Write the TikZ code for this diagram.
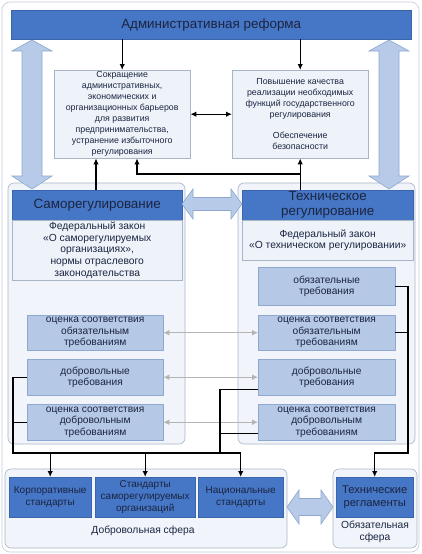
\documentclass[tikz,border=0pt]{standalone}
\usepackage{fontspec}
\setmainfont{Liberation Sans}
\usetikzlibrary{arrows.meta,calc}
\definecolor{dkblue}{HTML}{4676C6}
\definecolor{dkborder}{HTML}{3A64AC}
\definecolor{mdblue}{HTML}{B5C8E6}
\definecolor{mdborder}{HTML}{8FA8D0}
\definecolor{ltfill}{HTML}{EEF3FA}
\definecolor{ltborder}{HTML}{A9B4C6}
\definecolor{contfill}{HTML}{F1F5FB}
\definecolor{arrfill}{HTML}{B7CBE8}
\definecolor{arrdraw}{HTML}{8DA7CF}
\definecolor{txt}{HTML}{1B2540}
\definecolor{gryarr}{HTML}{B4B4B4}
\tikzset{
  dkbox/.style={fill=dkblue, draw=dkborder, text=txt, align=center, inner sep=1pt, anchor=north west},
  mdbox/.style={fill=mdblue, draw=mdborder, text=txt, align=center, inner sep=1pt, anchor=north west,
    font=\fontsize{10.2}{11.6}\selectfont},
  ltbox/.style={fill=ltfill, draw=ltborder, text=txt, align=center, inner sep=1pt, anchor=north west,
    font=\fontsize{8.8}{11}\selectfont},
  lawbox/.style={ltbox, font=\fontsize{10.3}{11.8}\selectfont},
  contbox/.style={rounded corners=6pt, fill=contfill, draw=ltborder, line width=0.6pt},
  fatarrow/.style={fill=arrfill, draw=arrdraw, line width=0.6pt},
  blk/.style={line width=1.3pt, black},
  blkar/.style={blk, -{Latex[length=6pt,width=5.5pt]}},
  blkdbl/.style={blk, {Latex[length=6pt,width=5.5pt]}-{Latex[length=6pt,width=5.5pt]}},
  gry/.style={line width=1.4pt, gryarr, {Latex[length=6pt,width=6pt]}-{Latex[length=6pt,width=6pt]}},
  lbl/.style={text=txt, align=center, inner sep=0pt, font=\fontsize{10.3}{12}\selectfont}
}
\begin{document}
\begin{tikzpicture}[x=1pt,y=-1pt]
\useasboundingbox (0,0) rectangle (421,554);
% outer frame
\draw[rounded corners=8pt, draw=ltborder!70, fill=white, line width=0.6pt] (2,2) rectangle (419,552);
% containers
\draw[contbox] (8,183) rectangle (185,444);
\draw[contbox] (238,183) rectangle (415,444);
\draw[contbox] (5,469) rectangle (287,548);
\draw[contbox] (333,469) rectangle (417,548);
% top bar
\node[dkbox, minimum width=400, minimum height=29, font=\fontsize{13.4}{15}\selectfont] (tb) at (11,10) {Административная реформа};
% big vertical double arrows
\draw[fatarrow] (32,40) -- (52,51) -- (42,51) -- (42,176) -- (52,176) -- (32,189) -- (12,176) -- (22,176) -- (22,51) -- (12,51) -- cycle;
\draw[fatarrow] (389,40) -- (409,51) -- (399,51) -- (399,176) -- (409,176) -- (389,189) -- (369,176) -- (379,176) -- (379,51) -- (369,51) -- cycle;
% upper text boxes
\node[ltbox, minimum width=136, minimum height=88] (b1) at (54,70) {Сокращение\\административных,\\экономических и\\организационных барьеров\\для развития\\предпринимательства,\\устранение избыточного\\регулирования};
\node[ltbox, minimum width=136, minimum height=88] (b2) at (232,70) {Повышение качества\\реализации необходимых\\функций государственного\\регулирования\\[10pt]Обеспечение\\безопасности};
% headers
\node[dkbox, minimum width=170, minimum height=30, font=\fontsize{13.4}{15}\selectfont] (sr) at (12,190) {Саморегулирование};
\node[lawbox, minimum width=170, minimum height=60] (srb) at (12,220) {Федеральный закон\\«О саморегулируемых\\организациях»,\\нормы отраслевого\\законодательства};
\node[dkbox, minimum width=171, minimum height=30, font=\fontsize{13.4}{15}\selectfont] (tr) at (242,190) {Техническое\\регулирование};
\node[lawbox, minimum width=171, minimum height=40] (trb) at (242,220) {Федеральный закон\\«О техническом регулировании»};
% header double arrow
\draw[fatarrow] (182,204) -- (193,189) -- (193,197.5) -- (231,197.5) -- (231,189) -- (242,204) -- (231,219) -- (231,210.5) -- (193,210.5) -- (193,219) -- cycle;
% right column boxes
\node[mdbox, minimum width=137, minimum height=38] (ob) at (258,267) {обязательные\\требования};
\node[mdbox, minimum width=137, minimum height=35] (ocob) at (258,315) {оценка соответствия\\обязательным\\требованиям};
\node[mdbox, minimum width=137, minimum height=36] (dob) at (258,359) {добровольные\\требования};
\node[mdbox, minimum width=137, minimum height=36] (ocdob) at (258,404) {оценка соответствия\\добровольным\\требованиям};
% left column boxes
\node[mdbox, minimum width=136, minimum height=35] (locob) at (27,315) {оценка соответствия\\обязательным\\требованиям};
\node[mdbox, minimum width=136, minimum height=36] (ldob) at (27,359) {добровольные\\требования};
\node[mdbox, minimum width=136, minimum height=36] (locdob) at (27,404) {оценка соответствия\\добровольным\\требованиям};
% gray double arrows
\draw[gry] (locob.east) -- (ocob.west);
\draw[gry] (ldob.east) -- (dob.west);
\draw[gry] (locdob.east) -- (ocdob.west);
% standards
\node[dkbox, minimum width=82, minimum height=40, font=\fontsize{10}{11.8}\selectfont] (corp) at (9,477) {Корпоративные\\стандарты};
\node[dkbox, minimum width=100, minimum height=40, font=\fontsize{10}{11.8}\selectfont] (sro) at (95,477) {Стандарты\\саморегулируемых\\организаций};
\node[dkbox, minimum width=85, minimum height=40, font=\fontsize{10}{11.8}\selectfont] (nat) at (198,477) {Национальные\\стандарты};
\node[dkbox, minimum width=77, minimum height=40, font=\fontsize{11.2}{13.5}\selectfont] (treg) at (336,477) {Технические\\регламенты};
\node[lbl] (vl) at (143,531) {Добровольная сфера};
\node[lbl] (ml) at (375,532) {Обязательная\\сфера};
% bottom fat double arrow
\draw[fatarrow] (287,507) -- (299,490) -- (299,498.5) -- (321,498.5) -- (321,490) -- (333,507) -- (321,524) -- (321,515.5) -- (299,515.5) -- (299,524) -- cycle;
% black connectors top
\draw[blkar] (tb.south -| b1.north) -- (b1.north);
\draw[blkar] (tb.south -| b2.north) -- (b2.north);
\draw[blkdbl] (b1.east) -- (b2.west);
\coordinate (c1) at (96,174);
\coordinate (c2) at (137,174);
\draw[blkar] (c1 |- sr.north) -- (c1 |- b1.south);
\draw[blkar] (b2.south |- tr.north) -- (b2.south);
\draw[blkar] (b2.south |- c2) -- (c2) -- (c2 |- b1.south);
% black connectors bottom
\coordinate (busL) at (13,453);
\coordinate (rv) at (220,453);
\coordinate (rr) at (408,453);
\draw[blk] (ldob.west) -| (busL) -- (busL -| nat.north);
\draw[blk] (locdob.west) -- (locdob.west -| busL);
\draw[blkar] (busL -| corp.north) -- (corp.north);
\draw[blkar] (busL -| sro.north) -- (sro.north);
\draw[blkar] (busL -| nat.north) -- (nat.north);
\coordinate (d1) at ($(dob.south west)+(0,-6)$);
\coordinate (d2) at ($(ocdob.south west)+(0,-7)$);
\draw[blk] (d1) -| (rv);
\draw[blk] (d2) -- (d2 -| rv);
\draw[blkar] (ob.east) -| (rr) -| (treg.north);
\draw[blk] (ocob.east) -- (ocob.east -| rr);
\end{tikzpicture}
\end{document}
